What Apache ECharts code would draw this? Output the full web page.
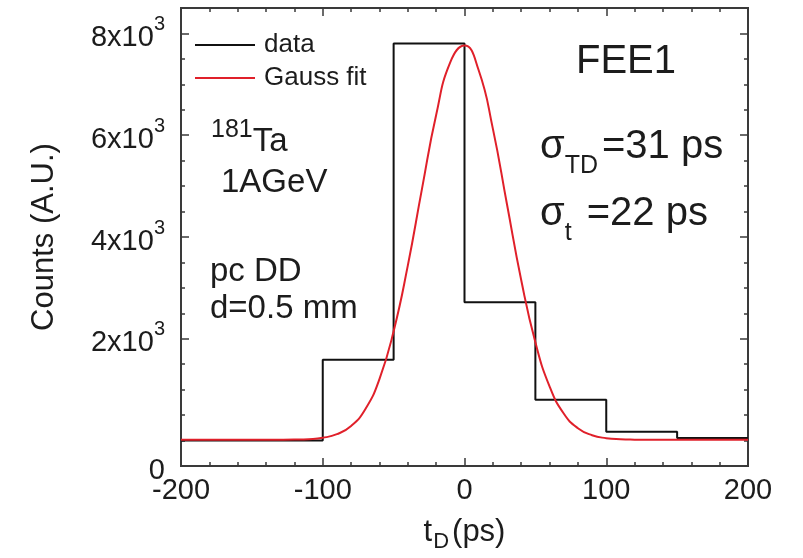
<!DOCTYPE html>
<html>
<head>
<meta charset="utf-8">
<title>FEE1 time difference</title>
<script src="https://cdn.jsdelivr.net/npm/echarts@6/dist/echarts.min.js"></script>
<style>
  html, body { margin: 0; padding: 0; background: #ffffff; }
  #chart { width: 803px; height: 558px; }
</style>
</head>
<body>
<div id="chart"></div>
<script>
// Histogram of t_D: bin edges (ps) and counts per bin
const binEdges = [-200, -150, -100, -50, 0, 50, 100, 150, 200];
const binCounts = [0, 0, 1590, 7800, 2720, 800, 175, 50];

// Gauss fit curve sampled along t_D (ps)
const fitT = [-200, -150, -130, -120, -110, -100, -90, -80, -70, -60, -50, -40, -30, -20, -10,
              0, 10, 20, 30, 40, 50, 60, 70, 80, 90, 100, 110, 120, 130, 150, 200];
const fitCounts = [15, 15, 16, 19, 28, 55, 125, 286, 615, 1208, 2147, 3437, 4946, 6398, 7435,
                   7761, 7277, 6130, 4639, 3155, 1930, 1064, 531, 243, 105, 47, 25, 18, 16, 15, 15];

// Axis ticks and labels
const xLabelValues = [-200, -100, 0, 100, 200];
const xMajorTicks = [-100, 0, 100];
const yMajorTicks = [2000, 4000, 6000, 8000];
const yLabelValues = [-500, 2000, 4000, 6000, 8000];
const yLabelMant = ['0', '2', '4', '6', '8'];

const FONT = "'Liberation Sans', Arial, Helvetica, sans-serif";
const INK = '#1c1c1c';
const FRAME = '#3a3a3a';
const RED = '#e0202a';

// step data: one point at each bin's left edge, plus the closing right edge
const histData = binCounts.map((c, i) => [binEdges[i], c]);
histData.push([binEdges[binEdges.length - 1], binCounts[binCounts.length - 1]]);
const fitData = fitT.map((t, i) => [t, fitCounts[i]]);

const frameLine = { show: true, onZero: false, lineStyle: { color: FRAME, width: 2 } };

function xAxisDef(position, major, withLabels) {
  return {
    type: 'value', position: position, min: -200, max: 200, interval: 20,
    axisLine: frameLine,
    splitLine: { show: false },
    axisTick: major
      ? { show: true, inside: true, length: 8, customValues: xMajorTicks, lineStyle: { color: FRAME, width: 1.5 } }
      : { show: true, inside: true, length: 4, lineStyle: { color: FRAME, width: 1.5 } },
    axisLabel: withLabels
      ? { show: true, customValues: xLabelValues, margin: 10, fontSize: 29, fontFamily: FONT, color: INK }
      : { show: false },
    name: withLabels ? '{t|t}{d|D}{p|(ps)}' : '',
    nameLocation: 'middle', nameGap: 47,
    nameTextStyle: {
      fontFamily: FONT, color: INK,
      rich: {
        t: { fontSize: 31, fontFamily: FONT, color: INK, lineHeight: 40, verticalAlign: 'top', padding: [4, 0, 0, 0] },
        d: { fontSize: 22, fontFamily: FONT, color: INK, lineHeight: 40, verticalAlign: 'bottom', padding: [0, 3, 0, 1] },
        p: { fontSize: 31, fontFamily: FONT, color: INK, lineHeight: 40, verticalAlign: 'top', padding: [4, 0, 0, 0] }
      }
    }
  };
}

function yAxisDef(position, major, withLabels) {
  return {
    type: 'value', position: position, min: -500, max: 8500, interval: 500,
    axisLine: frameLine,
    splitLine: { show: false },
    axisTick: major
      ? { show: true, inside: true, length: 8, customValues: yMajorTicks, lineStyle: { color: FRAME, width: 1.5 } }
      : { show: true, inside: true, length: 4, lineStyle: { color: FRAME, width: 1.5 } },
    axisLabel: withLabels
      ? {
          show: true, customValues: yLabelValues, margin: 16,
          formatter: function (v) {
            const i = yLabelValues.indexOf(v);
            if (i < 0) return '';
            return i === 0 ? '{b|' + yLabelMant[i] + '}' : '{b|' + yLabelMant[i] + 'x10}{s|3}';
          },
          rich: {
            b: { fontSize: 29, fontFamily: FONT, color: INK, lineHeight: 38, verticalAlign: 'bottom' },
            s: { fontSize: 20, fontFamily: FONT, color: INK, lineHeight: 38, verticalAlign: 'top' }
          }
        }
      : { show: false },
    name: withLabels ? 'Counts (A.U.)' : '',
    nameLocation: 'middle', nameGap: 121, nameRotate: 90,
    nameTextStyle: { fontSize: 31, fontFamily: FONT, color: INK }
  };
}

const sigmaRich = {
  g: { fontSize: 40, fontFamily: FONT, fill: INK, lineHeight: 52, verticalAlign: 'top' },
  d: { fontSize: 25, fontFamily: FONT, fill: INK, lineHeight: 52, verticalAlign: 'bottom', padding: [0, 4, 0, 0] },
  b: { fontSize: 40, fontFamily: FONT, fill: INK, lineHeight: 52, verticalAlign: 'top' }
};

const chart = echarts.init(document.getElementById('chart'), null, { renderer: 'canvas' });

chart.setOption({
  backgroundColor: '#ffffff',
  animation: false,
  grid: { left: 181, right: 55, top: 8, bottom: 92, containLabel: false, outerBoundsMode: 'none' },
  xAxis: [
    xAxisDef('bottom', false, false),
    xAxisDef('bottom', true, true),
    xAxisDef('top', false, false),
    xAxisDef('top', true, false)
  ],
  yAxis: [
    yAxisDef('left', false, false),
    yAxisDef('left', true, true),
    yAxisDef('right', false, false),
    yAxisDef('right', true, false)
  ],
  legend: {
    orient: 'vertical', left: 190, top: 27, itemGap: 7,
    itemWidth: 60, itemHeight: 14,
    textStyle: { fontSize: 26, fontFamily: FONT, color: INK, padding: [0, 0, 0, 4] },
    data: [{ name: 'data', icon: 'path://M0,0 L60,0 L60,2 L0,2 Z' },
           { name: 'Gauss fit', icon: 'path://M0,0 L60,0 L60,2 L0,2 Z' }]
  },
  series: [
    {
      name: 'data', type: 'line', step: 'end', data: histData,
      xAxisIndex: 0, yAxisIndex: 0, symbol: 'none',
      lineStyle: { color: '#111111', width: 2 }, itemStyle: { color: '#111111' }, z: 3
    },
    {
      name: 'Gauss fit', type: 'line', smooth: true, data: fitData,
      xAxisIndex: 0, yAxisIndex: 0, symbol: 'none',
      lineStyle: { color: RED, width: 2 }, itemStyle: { color: RED }, z: 4
    }
  ],
  graphic: [
    {
      type: 'text', left: 211, top: 118,
      style: {
        text: '{s|181}{b|Ta}', fill: INK,
        rich: {
          s: { fontSize: 25, fontFamily: FONT, fill: INK, lineHeight: 40, verticalAlign: 'top' },
          b: { fontSize: 33, fontFamily: FONT, fill: INK, lineHeight: 40, verticalAlign: 'bottom' }
        }
      }
    },
    { type: 'text', left: 221, top: 166, style: { text: '1AGeV', font: '33px ' + FONT, fill: INK } },
    { type: 'text', left: 210, top: 255, style: { text: 'pc DD', font: '33px ' + FONT, fill: INK } },
    { type: 'text', left: 210, top: 292, style: { text: 'd=0.5 mm', font: '33px ' + FONT, fill: INK } },
    { type: 'text', left: 576, top: 42, style: { text: 'FEE1', font: '40px ' + FONT, fill: INK } },
    {
      type: 'text', left: 540, top: 127,
      style: { text: '{g|σ}{d|TD}{b|=31 ps}', fill: INK, rich: sigmaRich }
    },
    {
      type: 'text', left: 540, top: 194,
      style: { text: '{g|σ}{d|t}{b| =22 ps}', fill: INK, rich: sigmaRich }
    }
  ]
});
</script>
</body>
</html>
